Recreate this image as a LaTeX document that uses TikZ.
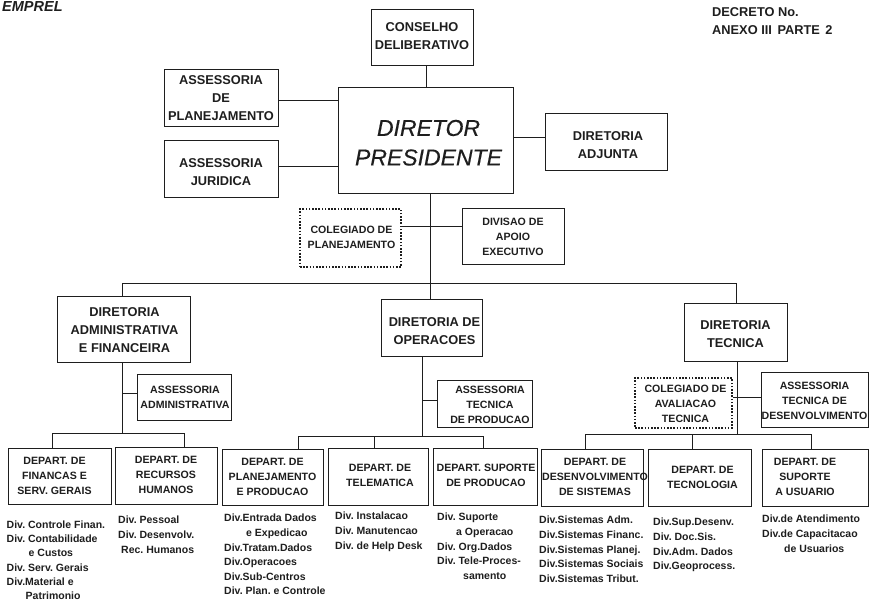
\documentclass[tikz,border=0pt]{standalone}
\usepackage{fontspec}
\setmainfont{Liberation Sans}
\newfontface\heavyit{Liberation Sans Italic}[FakeBold=0.25]
\definecolor{ink}{HTML}{1E1E1E}
\tikzset{
  x=1pt,y=-1pt,
  boxl/.style={draw=ink,line width=1pt,inner sep=0pt,text=ink,font=\fontsize{12.8}{18}\selectfont\bfseries},
  boxs/.style={draw=ink,line width=1pt,inner sep=0pt,text=ink,font=\fontsize{10.6}{15}\selectfont\bfseries},
  boxd/.style={boxs,dash pattern=on 1.6pt off 1.6pt,line width=1.2pt},
  boxp/.style={draw=ink,line width=1pt,inner sep=0pt,text=ink,font=\heavyit\fontsize{23}{29.5}\selectfont},
  conn/.style={draw=ink,line width=0.9pt},
  listn/.style={anchor=north west,inner sep=0pt,align=left,text=ink,font=\fontsize{10.5}{14.6}\selectfont\bfseries\frenchspacing},
  headn/.style={anchor=west,inner sep=0pt,text=ink,font=\fontsize{12.8}{18}\selectfont\bfseries}
}
% style, name, x1,y1,x2,y2, dx,dy, text
\newcommand{\bxt}[9][boxs]{%
  \node[#1,minimum width={(#5-#3)*1pt},minimum height={(#6-#4)*1pt}] (#2) at ({(#3+#5)/2},{(#4+#6)/2})
  {\makebox[0pt]{\hspace*{#7pt}\hspace*{#7pt}\raisebox{#8pt}[0pt][0pt]{\begin{tabular}{@{}c@{}}#9\end{tabular}}}};}
\newcommand{\hs}[1]{\hspace*{#1pt}}
\begin{document}
\begin{tikzpicture}
\path[clip] (0,0) rectangle (869,601);
\fill[white] (0,0) rectangle (869,601);

\node[inner sep=0pt,anchor=west,text=ink,font=\fontsize{14.5}{16}\selectfont\bfseries\itshape] (emprel) at (2,7) {EMPREL};
\node[headn] (decreto) at (712,12) {DECRETO No.};
\node[headn] (anexo) at (712,30) {ANEXO III\hspace{2pt} PARTE\hspace{2pt} 2};

\bxt[boxl]{cons}{371}{10}{473}{66}{0}{-2}{CONSELHO\\DELIBERATIVO}
\bxt[boxl]{aplan}{164}{70}{278}{127}{0}{-3}{ASSESSORIA\\DE\\PLANEJAMENTO}
\bxt[boxl]{ajur}{164}{141}{278}{198}{0}{-6}{ASSESSORIA\\JURIDICA}
\bxt[boxp]{dirp}{338}{88}{513}{194}{3}{-10}{DIRETOR\\PRESIDENTE}
\bxt[boxl]{adj}{545}{114}{667}{171}{2}{-6}{DIRETORIA\\ADJUNTA}
\bxt[boxd]{colp}{300}{209}{401}{267}{1}{-3}{COLEGIADO DE\\PLANEJAMENTO}
\bxt[boxs]{diva}{462}{209}{564}{265}{0}{-3}{DIVISAO DE\\APOIO\\EXECUTIVO}

\bxt[boxl]{dadm}{57}{297}{190}{362}{1}{-4.5}{DIRETORIA\\ADMINISTRATIVA\\E FINANCEIRA}
\bxt[boxl]{dop}{381}{299}{482}{356}{3}{-7}{DIRETORIA DE\\OPERACOES}
\bxt[boxl]{dtec}{684}{303}{787}{361}{0}{-6}{DIRETORIA\\TECNICA}

\bxt[boxs]{aadm}{137}{374}{231}{420}{1}{-4}{ASSESSORIA\\ADMINISTRATIVA}
\bxt[boxs]{atp}{437}{380}{532}{427}{5.5}{-5}{ASSESSORIA\\TECNICA\\DE PRODUCAO}
\bxt[boxd]{cola}{635}{378}{732}{428}{2}{-4.5}{COLEGIADO DE\\AVALIACAO\\TECNICA}
\bxt[boxs]{atd}{761}{372}{868}{427}{0}{-5}{ASSESSORIA\\TECNICA DE\\DESENVOLVIMENTO}

\bxt[boxs]{dp1}{8}{448}{111}{504}{-5}{-3}{DEPART. DE\\FINANCAS E\\SERV. GERAIS}
\bxt[boxs]{dp2}{115}{447}{217}{504}{0}{-3}{DEPART. DE\\RECURSOS\\HUMANOS}
\bxt[boxs]{dp3}{222}{449}{323}{505}{0}{-3}{DEPART. DE\\PLANEJAMENTO\\E PRODUCAO}
\bxt[boxs]{dp4}{328}{448}{428}{505}{2}{-2}{DEPART. DE\\TELEMATICA}
\bxt[boxs]{dp5}{433}{448}{537}{505}{1}{-2}{DEPART. SUPORTE\\DE PRODUCAO}
\bxt[boxs]{dp6}{541}{449}{643}{506}{3}{-3}{DEPART. DE\\DESENVOLVIMENTO\\DE SISTEMAS}
\bxt[boxs]{dp7}{648}{449}{751}{506}{3}{-3}{DEPART. DE\\TECNOLOGIA}
\bxt[boxs]{dp8}{762}{449}{868}{506}{-10}{-3}{DEPART. DE\\SUPORTE\\A USUARIO}

\node[listn,font=\fontsize{10.5}{14.3}\selectfont\bfseries\frenchspacing] (l1) at (6.5,520.5) {Div. Controle Finan.\\Div. Contabilidade\\\hs{22}e Custos\\Div. Serv. Gerais\\Div.Material e\\\hs{19}Patrimonio};
\node[listn] (l2) at (118,516) {Div. Pessoal\\Div. Desenvolv.\\\hs{3}Rec. Humanos};
\node[listn] (l3) at (224,514) {Div.Entrada Dados\\\hs{22}e Expedicao\\Div.Tratam.Dados\\Div.Operacoes\\Div.Sub-Centros\\Div. Plan. e Controle};
\node[listn] (l4) at (335,512) {Div. Instalacao\\Div. Manutencao\\Div. de Help Desk};
\node[listn] (l5) at (437,513) {Div. Suporte\\\hs{19}a Operacao\\Div. Org.Dados\\Div. Tele-Proces-\\\hs{26}samento};
\node[listn] (l6) at (539,516) {Div.Sistemas Adm.\\Div.Sistemas Financ.\\Div.Sistemas Planej.\\Div.Sistemas Sociais\\Div.Sistemas Tribut.};
\node[listn] (l7) at (653,518) {Div.Sup.Desenv.\\Div. Doc.Sis.\\Div.Adm. Dados\\Div.Geoprocess.};
\node[listn] (l8) at (762,515) {Div.de Atendimento\\Div.de Capacitacao\\\hs{22}de Usuarios};

% named routing points
\coordinate (main) at (430,283);
\coordinate (busL) at (122,283);
\coordinate (busR) at (736,283);
\coordinate (consv) at (426,77);
\coordinate (tadm) at (122,433);
\coordinate (top) at (422,436);
\coordinate (ttec) at (737,434);
\coordinate (x1) at (52,0);
\coordinate (x2) at (184,0);
\coordinate (x3) at (298,0);
\coordinate (x4) at (374,0);
\coordinate (x5) at (483,0);
\coordinate (x6) at (585,0);
\coordinate (x7) at (692,0);
\coordinate (x8) at (811,0);
\coordinate (ya) at (0,100);
\coordinate (yj) at (0,166);
\coordinate (yd) at (0,137);
\coordinate (yc) at (0,226);
\coordinate (yaa) at (0,393);
\coordinate (yat) at (0,400);
\coordinate (yad) at (0,397);

\path[conn] (cons.south -| consv) -- (dirp.north -| consv);
\path[conn] (aplan.east |- ya) -- (dirp.west |- ya);
\path[conn] (ajur.east |- yj) -- (dirp.west |- yj);
\path[conn] (dirp.east |- yd) -- (adj.west |- yd);
\path[conn] (dirp.south -| main) -- (dop.north -| main);
\path[conn] (colp.east |- yc) -- (diva.west |- yc);
\path[conn] (dadm.north -| busL) -- (busL) -- (busR) -- (dtec.north -| busR);

\path[conn] (dadm.south -| tadm) -- (tadm);
\path[conn] (aadm.west |- yaa) -- (tadm |- yaa);
\path[conn] (dp1.north -| x1) -- (x1 |- tadm) -- (x2 |- tadm) -- (dp2.north -| x2);

\path[conn] (dop.south -| top) -- (top);
\path[conn] (atp.west |- yat) -- (top |- yat);
\path[conn] (dp3.north -| x3) -- (x3 |- top) -- (x5 |- top) -- (dp5.north -| x5);
\path[conn] (x4 |- top) -- (dp4.north -| x4);

\path[conn] (dtec.south -| ttec) -- (ttec);
\path[conn] (cola.east |- yad) -- (atd.west |- yad);
\path[conn] (dp6.north -| x6) -- (x6 |- ttec) -- (x8 |- ttec) -- (dp8.north -| x8);
\path[conn] (x7 |- ttec) -- (dp7.north -| x7);
\end{tikzpicture}
\end{document}
